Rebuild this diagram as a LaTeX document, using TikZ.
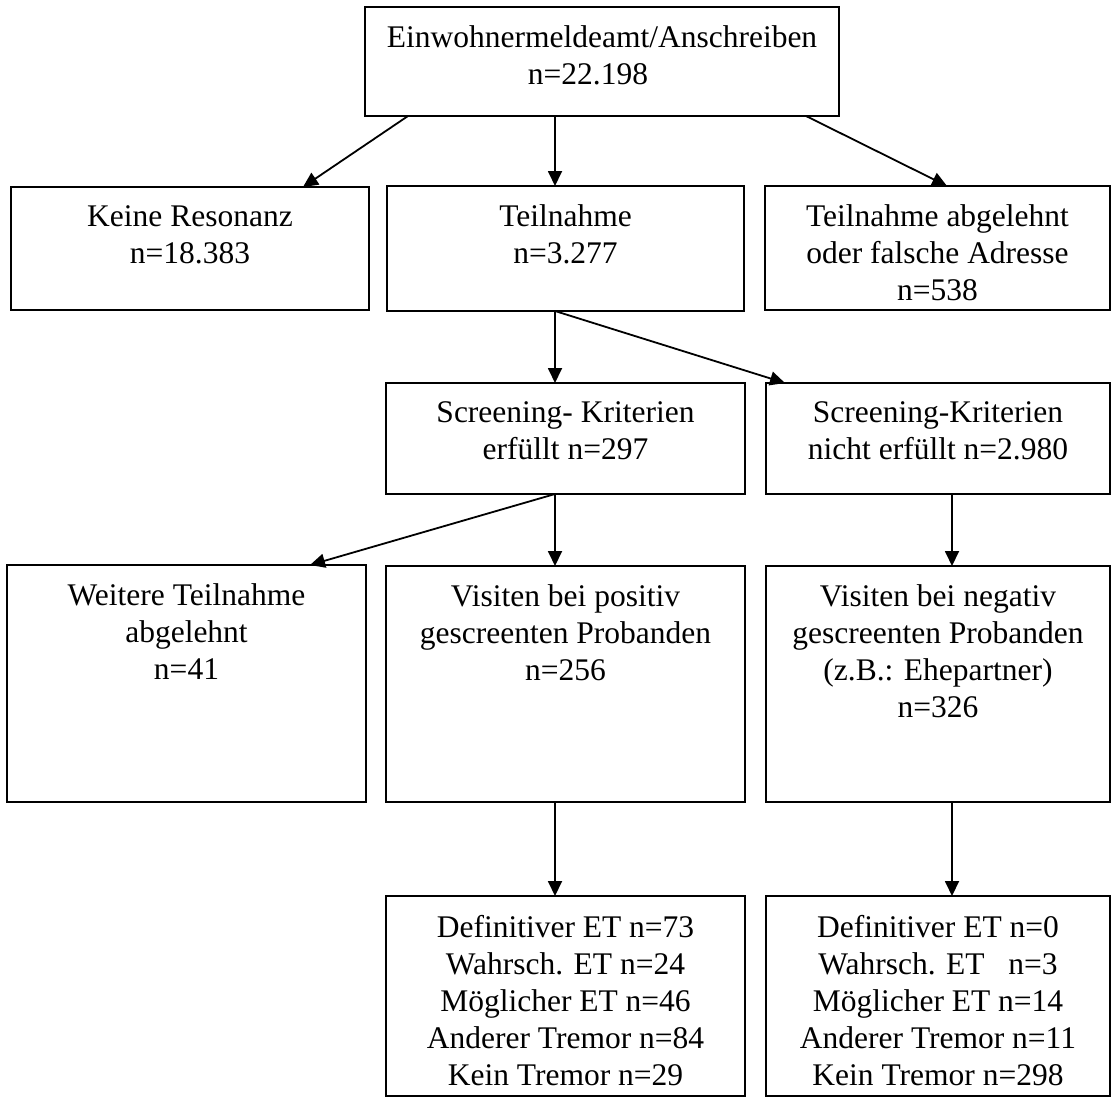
\documentclass[tikz,border=0pt]{standalone}
\usepackage{fontspec}
\setmainfont{Liberation Serif}
\usetikzlibrary{arrows.meta,calc}

\begin{document}
\begin{tikzpicture}[x=0.5pt,y=-0.5pt,
  box/.style 2 args={draw,line width=0.9pt,anchor=north west,
    inner sep=0pt,outer sep=0pt,
    minimum width=#1*0.5pt,minimum height=#2*0.5pt},
  txt/.style={anchor=north,align=center,inner sep=0pt,yshift=-9.25pt,
    font=\fontsize{15.75}{18.5}\selectfont},
  arr/.style={line width=0.9pt,-{Triangle[width=7pt,length=7.5pt]}}]

  % Page frame (pixel grid of the scan, y runs downwards)
  \useasboundingbox (0,0) rectangle (1113,1099);

  % Top: all residents written to
  \node[box={474}{109}] (einw) at (365,7) {};
  \node[txt] (einw-t) at (einw.north)
        {Einwohnermeldeamt/Anschreiben\\n=22.198\hspace*{14pt}};

  % First answer row
  \node[box={358}{123}] (keine) at (11,187) {};
  \node[txt] (keine-t) at (keine.north) {Keine Resonanz\\n=18.383};
  \node[box={357}{125}] (teil) at (387,186) {};
  \node[txt] (teil-t) at (teil.north) {Teilnahme\\n=3.277};
  \node[box={345}{124}] (abgel) at (765,186) {};
  \node[txt] (abgel-t) at (abgel.north)
        {Teilnahme abgelehnt\\oder falsche Adresse\\n=538};

  % Screening outcome
  \node[box={359}{111}] (scrja) at (386,383) {};
  \node[txt] (scrja-t) at (scrja.north)
        {Screening- Kriterien\\erfüllt n=297};
  \node[box={344}{111}] (scrnein) at (766,383) {};
  \node[txt] (scrnein-t) at (scrnein.north)
        {Screening-Kriterien\\nicht erfüllt n=2.980};

  % Visits
  \node[box={359}{237}] (weiter) at (7,565) {};
  \node[txt] (weiter-t) at (weiter.north)
        {Weitere Teilnahme\\abgelehnt\\n=41};
  \node[box={359}{236}] (vispos) at (386,566) {};
  \node[txt] (vispos-t) at (vispos.north)
        {Visiten bei positiv\\gescreenten Probanden\\n=256};
  \node[box={344}{236}] (visneg) at (766,566) {};
  \node[txt] (visneg-t) at (visneg.north)
        {Visiten bei negativ\\gescreenten Probanden\\(z.B.: Ehepartner)\\n=326};

  % Diagnoses
  \node[box={359}{200}] (diapos) at (386,896) {};
  \node[txt] (diapos-t) at (diapos.north)
        {Definitiver ET n=73\\Wahrsch. ET n=24\\Möglicher ET n=46\\
         Anderer Tremor n=84\\Kein Tremor n=29};
  \node[box={344}{200}] (dianeg) at (766,896) {};
  \node[txt] (dianeg-t) at (dianeg.north)
        {Definitiver ET n=0\\Wahrsch. ET\ \ \ n=3\\Möglicher ET n=14\\
         Anderer Tremor n=11\\Kein Tremor n=298};

  % Arrows
  \draw[arr] ($(einw.south west)+(43,0)$) -- ($(keine.north west)+(292,0)$);
  \draw[arr] ($(einw.south west)+(190,0)$) -- ($(teil.north west)+(168,0)$);
  \draw[arr] ($(einw.south west)+(441,0)$) -- ($(abgel.north west)+(182,0)$);

  \draw[arr] ($(teil.south west)+(168,0)$) -- ($(scrja.north west)+(169,0)$);
  \draw[arr] ($(teil.south west)+(168,0)$) -- ($(scrnein.north west)+(19,0)$);

  \draw[arr] ($(scrja.south west)+(169,0)$) -- ($(vispos.north west)+(169,0)$);
  \draw[arr] ($(scrja.south west)+(169,0)$) -- ($(weiter.north west)+(303,0)$);
  \draw[arr] ($(scrnein.south west)+(186,0)$) -- ($(visneg.north west)+(186,0)$);

  \draw[arr] ($(vispos.south west)+(169,0)$) -- ($(diapos.north west)+(169,0)$);
  \draw[arr] ($(visneg.south west)+(186,0)$) -- ($(dianeg.north west)+(186,0)$);

\end{tikzpicture}
\end{document}
